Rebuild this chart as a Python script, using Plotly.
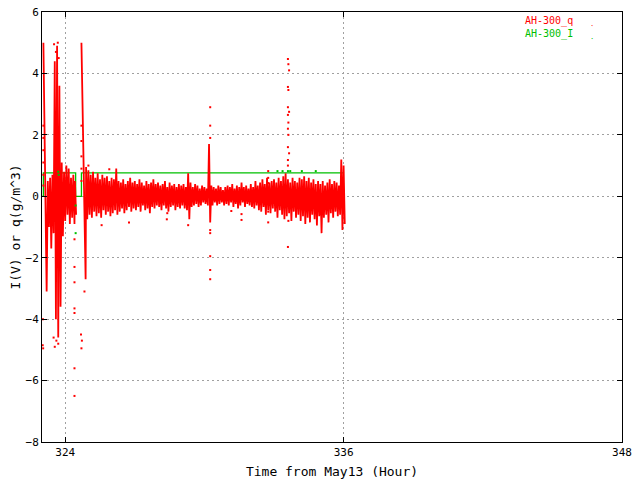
import plotly.graph_objects as go

# AH-300_q : envelope of the dense q record, one high/low pair per time bin
q_t = [323.06, 323.15, 323.25, 323.35, 323.45, 323.55, 323.65, 323.75, 323.85,
       323.95, 324.05, 324.15, 324.25, 324.35, 324.42,
       None,
       324.70, 324.83,
       324.9, 325.0, 325.1, 325.2, 325.3, 325.4, 325.5, 325.6, 325.7, 325.8, 325.9,
       326.0, 326.1, 326.2, 326.3, 326.4, 326.5, 326.6, 326.7, 326.8, 326.9,
       327.0, 327.1, 327.2, 327.3, 327.4, 327.5, 327.6, 327.7, 327.8, 327.9,
       328.0, 328.1, 328.2, 328.3, 328.4, 328.5, 328.6, 328.7, 328.8, 328.9,
       329.0, 329.1, 329.2, 329.3, 329.4, 329.5, 329.6, 329.7, 329.8, 329.9,
       330.0, 330.1, 330.2, 330.3, 330.4, 330.5, 330.6, 330.7, 330.8, 330.9,
       331.0, 331.1, 331.2, 331.3, 331.4, 331.5, 331.6, 331.7, 331.8, 331.9,
       332.0, 332.1, 332.2, 332.3, 332.4, 332.5, 332.6, 332.7, 332.8, 332.9,
       333.0, 333.1, 333.2, 333.3, 333.4, 333.5, 333.6, 333.7, 333.8, 333.9,
       334.0, 334.1, 334.2, 334.3, 334.4, 334.5, 334.6, 334.7, 334.8, 334.9,
       335.0, 335.1, 335.2, 335.3, 335.4, 335.5, 335.6, 335.7, 335.8, 335.9,
       336.0]
q_hi = [5.0, 0.0, 0.5, 0.6, 0.7, 4.4, 4.9, 3.6, 1.1,
        0.8, 1.0, 0.9, 0.6, 0.7, 0.5,
        None,
        5.0, 0.1,
        0.95, 0.85, 0.7, 0.8, 0.6, 0.75, 0.55, 0.7, 0.6, 0.65, 0.5,
        0.6, 0.55, 0.9, 0.5, 0.45, 0.55, 0.4, 0.5, 0.6, 0.45,
        0.5, 0.4, 0.55, 0.45, 0.35, 0.5, 0.4, 0.45, 0.55, 0.4,
        0.45, 0.35, 0.4, 0.5, 0.3, 0.45, 0.35, 0.4, 0.3, 0.4,
        0.35, 0.4, 0.3, 0.75, 0.45, 0.3, 0.4, 0.35, 0.25, 0.35,
        0.3, 0.25, 1.7, 0.35, 0.3, 0.25, 0.35, 0.3, 0.2, 0.3,
        0.35, 0.3, 0.4, 0.25, 0.35, 0.3, 0.45, 0.3, 0.35, 0.25,
        0.4, 0.3, 0.5, 0.35, 0.45, 0.55, 0.4, 0.6, 0.45, 0.5,
        0.55, 0.45, 0.6, 0.5, 0.65, 0.75, 0.55, 0.45, 0.6, 0.5,
        0.45, 0.6, 0.55, 0.65, 0.5, 0.6, 0.45, 0.55, 0.4, 0.5,
        0.4, 0.5, 0.35, 0.45, 0.55, 0.4, 0.5, 0.45, 0.35, 1.2,
        1.0]
q_lo = [2.6, -3.1, -1.0, -1.7, -1.2, -4.0, -4.6, -3.6, -1.3,
        -0.8, -0.6, -0.9, -0.7, -0.9, -0.6,
        None,
        2.7, -2.7,
        -0.75, -0.6, -0.7, -0.5, -0.65, -0.55, -0.7, -0.45, -0.6, -0.5, -0.65,
        -0.55, -0.45, -0.6, -0.5, -0.4, -0.55, -0.45, -0.35, -0.5, -0.4,
        -0.45, -0.35, -0.5, -0.3, -0.45, -0.4, -0.55, -0.35, -0.4, -0.3,
        -0.35, -0.45, -0.3, -0.4, -0.5, -0.35, -0.3, -0.45, -0.35, -0.4,
        -0.3, -0.4, -0.45, -0.75, -0.35, -0.3, -0.25, -0.35, -0.3, -0.2,
        -0.25, -0.3, -0.85, -0.3, -0.2, -0.3, -0.25, -0.2, -0.3, -0.25,
        -0.3, -0.2, -0.35, -0.25, -0.4, -0.3, -0.2, -0.35, -0.25, -0.3,
        -0.35, -0.4, -0.3, -0.45, -0.5, -0.35, -0.6, -0.45, -0.55, -0.4,
        -0.5, -0.7, -0.45, -0.6, -0.75, -0.65, -0.55, -0.8, -0.5, -0.7,
        -0.6, -0.8, -0.65, -0.9, -0.7, -0.85, -0.6, -0.75, -0.95, -0.65,
        -1.2, -0.7, -0.6, -0.85, -0.55, -0.7, -0.5, -0.65, -0.6, -1.1,
        -0.9]

# isolated q samples outside the band
q_dot_t = [323.06, 323.06, 323.06, 323.06, 323.06, 323.06, 323.03, 323.05, 323.04,
           323.52, 323.60, 323.68, 323.72, 323.55, 323.62, 323.70, 323.50,
           324.40, 324.40, 324.40, 324.40, 324.40, 324.40, 324.40,
           324.70, 324.70, 324.70, 324.70, 324.70, 324.68, 324.72, 324.70, 324.83,
           325.0, 325.9, 325.57, 326.75, 328.4, 328.38, 329.3,
           330.25, 330.25, 330.25, 330.25, 330.25, 330.25, 330.25, 330.25,
           331.16, 331.6, 331.6, 332.75, 332.75, 332.75, 332.75, 332.75,
           333.6, 333.62, 333.65, 333.6, 333.62, 333.6, 333.65, 333.6, 333.62,
           333.6, 333.62, 333.6, 333.65, 333.6, 333.62, 333.6, 333.6]
q_dot_v = [2.3, 1.9, 1.5, 1.1, 0.7, 0.35, -4.85, -4.95, -4.0,
           4.95, 4.7, 5.0, 4.5, -4.9, -4.7, -4.8, -4.6,
           -1.4, -2.3, -2.8, -3.65, -3.8, -5.6, -6.5,
           2.3, 1.8, 1.3, 0.9, 0.5, -4.5, -4.7, -4.95, -3.1,
           1.0, 0.88, -0.94, -0.85, -0.55, -0.75, -0.94,
           2.9, 2.3, -1.1, -1.2, -1.95, -2.4, -2.7, 1.9,
           -0.48, -0.58, -0.77, 0.82, 0.6, 0.43, -0.5, -0.85,
           4.47, 4.3, 4.1, 3.56, 3.46, 2.9, 2.75, 2.65, 2.4,
           2.2, 2.0, 1.6, 1.4, 1.18, -0.8, -1.65, 1.0]

# AH-300_I : step record of the current
i_t = [323.0, 323.06, 324.45, 324.70, 336.02]
i_v = [0.0, 0.76, 0.0, 0.76, 0.76]
i_dot_t = [323.7, 323.72, 324.45, 324.45, 333.15, 333.37, 333.6, 333.7, 334.2, 334.8]
i_dot_v = [0.8, 0.7, -1.2, -0.3, 0.82, 0.82, 0.82, 0.82, 0.82, 0.82]

# zigzag through high/low of each bin so the band reads as dense dots
zz_x, zz_y = [], []
for t, hi, lo in zip(q_t, q_hi, q_lo):
    if t is None:
        zz_x.append(None)
        zz_y.append(None)
        continue
    zz_x += [t, t + 0.05]
    zz_y += [hi, lo]

RED = "#ff0000"
GREEN = "#00c000"
FONT = "DejaVu Sans Mono"

fig = go.Figure()
fig.add_trace(go.Scatter(x=i_t, y=i_v, mode="lines", line_shape="hv",
                         line=dict(color=GREEN, width=1.3), showlegend=False))
fig.add_trace(go.Scatter(x=zz_x, y=zz_y, mode="lines",
                         line=dict(color=RED, width=1.8), showlegend=False))
fig.add_trace(go.Scatter(x=q_dot_t, y=q_dot_v, mode="markers",
                         marker=dict(color=RED, size=2, symbol="square"),
                         showlegend=False))
fig.add_trace(go.Scatter(x=i_dot_t, y=i_dot_v, mode="markers",
                         marker=dict(color=GREEN, size=2, symbol="square"),
                         showlegend=False))

# gnuplot-style key: coloured label with a dot sample to its right
fig.add_annotation(x=0.919, y=0.979, xref="paper", yref="paper", text="AH-300_q",
                   showarrow=False, xanchor="right", yanchor="middle",
                   font=dict(color=RED, size=10))
fig.add_annotation(x=0.919, y=0.949, xref="paper", yref="paper", text="AH-300_I",
                   showarrow=False, xanchor="right", yanchor="middle",
                   font=dict(color=GREEN, size=10))
fig.add_annotation(x=0.955, y=0.981, xref="paper", yref="paper", text="·",
                   showarrow=False, font=dict(color=RED, size=7))
fig.add_annotation(x=0.955, y=0.951, xref="paper", yref="paper", text="·",
                   showarrow=False, font=dict(color=GREEN, size=7))

axis_common = dict(showline=True, mirror="ticks", linecolor="black", linewidth=1,
                   ticks="inside", ticklen=5, tickcolor="black",
                   showgrid=True, gridcolor="#a0a0a0", griddash="2px,3px",
                   gridwidth=1, zeroline=False, automargin=False)

fig.update_xaxes(range=[323, 348], tickvals=[324, 336, 348],
                 title=dict(text="Time from May13 (Hour)", standoff=8),
                 **axis_common)
fig.update_yaxes(range=[-8, 6], tickvals=[-8, -6, -4, -2, 0, 2, 4, 6],
                 title=dict(text="I(V) or q(g/m^3)", standoff=1),
                 **axis_common)

fig.update_layout(width=640, height=480,
                  margin=dict(l=42, r=18, t=12, b=38),
                  plot_bgcolor="white", paper_bgcolor="white",
                  font=dict(family=FONT, size=11, color="black"),
                  showlegend=False)

# drop the browser's default page margin so the figure sits at the window corner
fig.write_html("out.html", config={"displayModeBar": False},
               post_script="document.body.style.margin='0px';")
